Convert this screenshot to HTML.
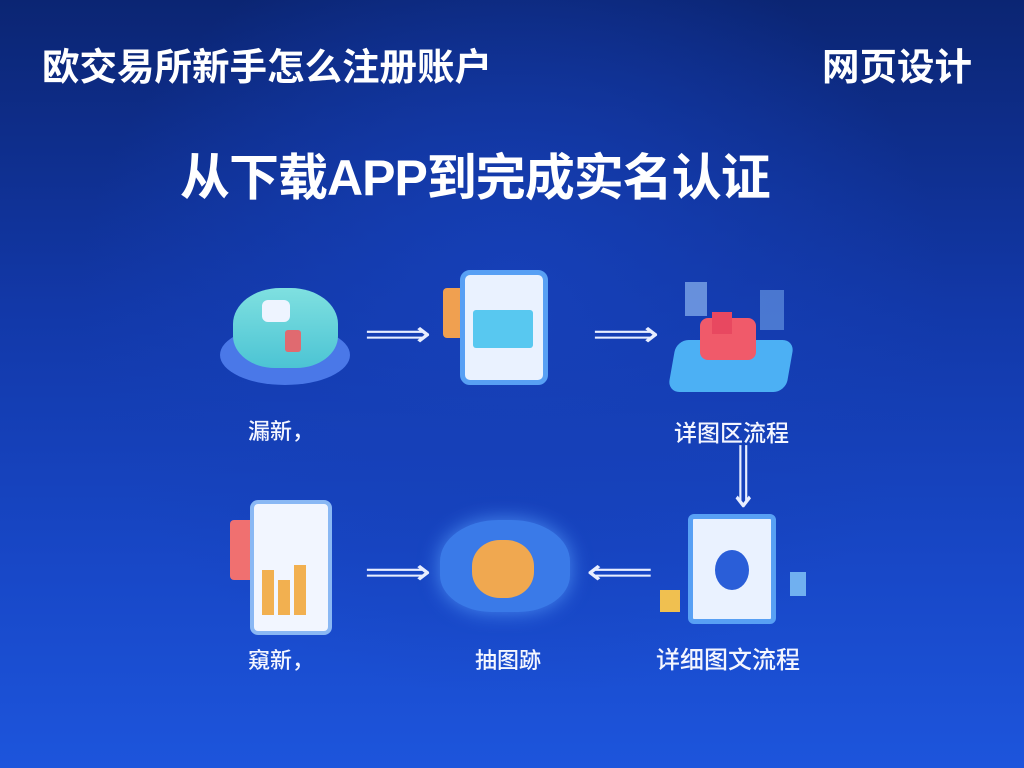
<!DOCTYPE html>
<html><head><meta charset="utf-8"><style>
*{margin:0;padding:0;box-sizing:border-box}
body{width:1024px;height:768px;overflow:hidden;position:relative;
background:radial-gradient(ellipse at 50% 40%,#1640b8 0%,rgba(22,64,184,0) 60%),linear-gradient(180deg,#0b2573 0%,#1238a8 40%,#1848c8 75%,#1d55dc 100%);
font-family:"Liberation Sans","Noto Sans CJK SC",sans-serif;color:#fff}
.a{position:absolute}
.t{font-weight:bold;white-space:nowrap}
.lbl{font-size:22px;color:#f4f6ff;white-space:nowrap;font-weight:500}
.arr{position:absolute;color:#e8eeff;font-size:36px;line-height:1;transform:scaleX(1.3)}
</style></head><body>
<div class="a t" style="left:42px;top:36px;font-size:37.5px">欧交易所新手怎么注册账户</div>
<div class="a t" style="left:822px;top:36px;font-size:37.5px">网页设计</div>
<div class="a t" style="left:180px;top:138px;font-size:50px;letter-spacing:-1px">从下载APP到完成实名认证</div>

<!-- icon 1 -->
<div class="a" style="left:220px;top:325px;width:130px;height:60px;border-radius:50%;background:#4a78e8"></div>
<div class="a" style="left:233px;top:288px;width:105px;height:80px;border-radius:45% 45% 40% 40%;background:linear-gradient(#7fe0e0,#4cc4d4)"></div>
<div class="a" style="left:262px;top:300px;width:28px;height:22px;border-radius:6px;background:#eef4ff"></div>
<div class="a" style="left:285px;top:330px;width:16px;height:22px;background:#e06a70;border-radius:3px"></div>

<!-- icon 2 -->
<div class="a" style="left:443px;top:288px;width:30px;height:50px;background:#f0a050;border-radius:4px"></div>
<div class="a" style="left:460px;top:270px;width:88px;height:115px;border-radius:10px;background:#eaf2ff;border:5px solid #58a0f4"></div>
<div class="a" style="left:473px;top:310px;width:60px;height:38px;background:#58c8f0;border-radius:3px"></div>

<!-- icon 3 -->
<div class="a" style="left:672px;top:340px;width:118px;height:52px;background:#4cb0f4;border-radius:12px;transform:skewX(-10deg)"></div>
<div class="a" style="left:700px;top:318px;width:56px;height:42px;background:#f05a6a;border-radius:8px"></div>
<div class="a" style="left:712px;top:312px;width:20px;height:22px;background:#e84860"></div>
<div class="a" style="left:685px;top:282px;width:22px;height:34px;background:#8ab4f0;opacity:.7"></div>
<div class="a" style="left:760px;top:290px;width:24px;height:40px;background:#6ea0e8;opacity:.6"></div>

<!-- icon 4 -->
<div class="a" style="left:230px;top:520px;width:35px;height:60px;background:#f07070;border-radius:4px"></div>
<div class="a" style="left:250px;top:500px;width:82px;height:135px;background:#f2f6ff;border:4px solid #8ab8f4;border-radius:8px"></div>
<div class="a" style="left:262px;top:570px;width:12px;height:45px;background:#f2b050"></div>
<div class="a" style="left:278px;top:580px;width:12px;height:35px;background:#f2b050"></div>
<div class="a" style="left:294px;top:565px;width:12px;height:50px;background:#f2b050"></div>

<!-- icon 5 -->
<div class="a" style="left:440px;top:520px;width:130px;height:92px;background:#3a7ae8;border-radius:45% 45% 40% 40%;box-shadow:0 0 20px #4a8af0"></div>
<div class="a" style="left:472px;top:540px;width:62px;height:58px;background:#f0a850;border-radius:45%"></div>

<!-- icon 6 -->
<div class="a" style="left:688px;top:514px;width:88px;height:110px;background:#eaf2ff;border:5px solid #58a0f4;border-radius:6px"></div>
<div class="a" style="left:715px;top:550px;width:34px;height:40px;background:#2a5ed8;border-radius:50%"></div>
<div class="a" style="left:660px;top:590px;width:20px;height:22px;background:#f0c050"></div>
<div class="a" style="left:790px;top:572px;width:16px;height:24px;background:#70b0f0"></div>

<!-- arrows -->
<div class="arr" style="left:372px;top:316px">⟹</div>
<div class="arr" style="left:600px;top:316px">⟹</div>
<div class="arr" style="left:718px;top:458px;transform:rotate(90deg) scaleX(1.3)">⟹</div>
<div class="arr" style="left:372px;top:554px">⟹</div>
<div class="arr" style="left:594px;top:554px">⟸</div>

<!-- labels -->
<div class="a lbl" style="left:248px;top:414px">漏新，</div>
<div class="a lbl" style="left:674px;top:414px;font-size:23px">详图区流程</div>
<div class="a lbl" style="left:248px;top:643px">窺新，</div>
<div class="a lbl" style="left:475px;top:643px">抽图跡</div>
<div class="a lbl" style="left:656px;top:640px;font-size:24px">详细图文流程</div>
</body></html>
